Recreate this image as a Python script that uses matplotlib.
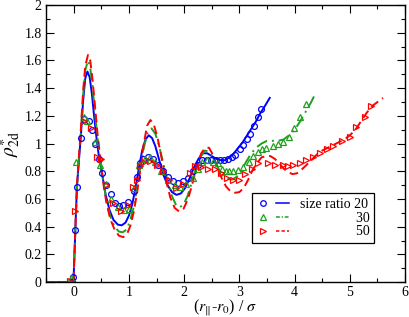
import numpy as np
import matplotlib
matplotlib.use("Agg")
import matplotlib.pyplot as plt
from matplotlib.ticker import MultipleLocator, FuncFormatter
from matplotlib.legend_handler import HandlerTuple
from matplotlib.lines import Line2D

plt.rcParams['font.family'] = ['Liberation Serif', 'DejaVu Serif']
plt.rcParams['mathtext.fontset'] = 'stix'

# theory curves
x20_line = [-0.5, -0.05, 0.0, 0.03, 0.06, 0.1, 0.13, 0.17, 0.21, 0.25, 0.29, 0.33, 0.37, 0.42, 0.46,
            0.52, 0.58, 0.65, 0.72, 0.8, 0.87, 0.94, 1.0, 1.06, 1.12, 1.18, 1.24, 1.3, 1.36, 1.42,
            1.48, 1.55, 1.62, 1.7, 1.78, 1.86, 1.94, 2.02, 2.1, 2.18, 2.26, 2.34, 2.42, 2.5, 2.58,
            2.66, 2.74, 2.82, 2.9, 2.98, 3.06, 3.14, 3.22, 3.3, 3.38, 3.46, 3.55]
y20_line = [0, 0, 0.03, 0.37, 0.69, 0.90, 1.05, 1.30, 1.47, 1.52, 1.48, 1.36, 1.20, 1.02, 0.90,
            0.77, 0.63, 0.52, 0.45, 0.415, 0.41, 0.43, 0.48, 0.56, 0.68, 0.82, 0.95, 1.03, 1.06, 1.04,
            0.98, 0.88, 0.78, 0.70, 0.65, 0.63, 0.64, 0.68, 0.75, 0.83, 0.89, 0.93, 0.93, 0.91, 0.89,
            0.88, 0.88, 0.90, 0.93, 0.97, 1.01, 1.06, 1.11, 1.16, 1.22, 1.27, 1.33]

x30_line = [-0.5, -0.05, 0.0, 0.03, 0.06, 0.1, 0.13, 0.17, 0.21, 0.26, 0.3, 0.34, 0.38, 0.43, 0.48,
            0.53, 0.59, 0.66, 0.74, 0.82, 0.89, 0.96, 1.02, 1.08, 1.14, 1.2, 1.27, 1.34, 1.41, 1.48,
            1.55, 1.62, 1.7, 1.78, 1.85, 1.92, 1.99, 2.06, 2.14, 2.22, 2.3, 2.38, 2.46, 2.54, 2.62,
            2.7, 2.78, 2.87, 2.95, 3.03, 3.11, 3.2, 3.3, 3.4, 3.5, 3.6, 3.7, 3.8, 3.9, 4.0, 4.1,
            4.2, 4.3, 4.35]
y30_line = [0, 0, 0.03, 0.37, 0.70, 0.92, 1.08, 1.34, 1.53, 1.60, 1.55, 1.42, 1.25, 1.05, 0.88,
            0.74, 0.60, 0.48, 0.40, 0.365, 0.36, 0.38, 0.44, 0.53, 0.66, 0.81, 0.97, 1.08, 1.11, 1.07,
            0.98, 0.86, 0.73, 0.62, 0.56, 0.54, 0.56, 0.62, 0.72, 0.83, 0.91, 0.95, 0.94, 0.89, 0.82,
            0.77, 0.745, 0.74, 0.76, 0.80, 0.86, 0.92, 0.97, 1.0, 1.02, 1.02, 1.02, 1.03, 1.06, 1.10, 1.16,
            1.23, 1.30, 1.34]

x50_line = [-0.5, -0.05, 0.0, 0.03, 0.06, 0.1, 0.13, 0.17, 0.21, 0.26, 0.3, 0.34, 0.38, 0.43, 0.48,
            0.53, 0.59, 0.66, 0.74, 0.82, 0.9, 0.97, 1.03, 1.09, 1.15, 1.21, 1.27, 1.33, 1.39, 1.45,
            1.52, 1.59, 1.67, 1.75, 1.83, 1.91, 1.99, 2.07, 2.15, 2.23, 2.31, 2.38, 2.45, 2.52, 2.6,
            2.68, 2.76, 2.84, 2.92, 3.0, 3.08, 3.16, 3.24, 3.32, 3.4, 3.48, 3.56, 3.64, 3.72, 3.8,
            3.88, 3.96, 4.04, 4.12, 4.2, 4.3, 4.4, 4.5, 4.6, 4.7, 4.8, 4.9, 5.0, 5.1, 5.2, 5.3,
            5.4, 5.5, 5.6]
y50_line = [0, 0, 0.03, 0.37, 0.70, 0.93, 1.10, 1.37, 1.56, 1.64, 1.60, 1.47, 1.30, 1.08, 0.90,
            0.74, 0.58, 0.46, 0.38, 0.335, 0.325, 0.35, 0.41, 0.51, 0.65, 0.82, 1.0, 1.13, 1.17, 1.14,
            1.04, 0.90, 0.74, 0.61, 0.535, 0.51, 0.53, 0.60, 0.71, 0.84, 0.93, 0.97, 0.97, 0.92, 0.83,
            0.75, 0.69, 0.655, 0.645, 0.65, 0.68, 0.74, 0.81, 0.86, 0.90, 0.91, 0.91, 0.89, 0.86, 0.82,
            0.795, 0.78, 0.785, 0.81, 0.84, 0.88, 0.92, 0.95, 0.97, 0.99, 1.01, 1.03, 1.06, 1.10, 1.16, 1.22,
            1.27, 1.30, 1.33]

# simulation points
x20_sim = [-0.03, -0.01, 0.02, 0.06, 0.13, 0.18, 0.27, 0.33, 0.39, 0.46, 0.52, 0.59, 0.67, 0.74,
           0.82, 0.89, 0.98, 1.09, 1.15, 1.20, 1.26, 1.35, 1.44, 1.53, 1.62, 1.71, 1.79, 1.89, 1.98,
           2.07, 2.16, 2.25, 2.33, 2.41, 2.49, 2.57, 2.65, 2.73, 2.80, 2.86, 2.92, 3.01, 3.07, 3.13,
           3.20, 3.27, 3.34, 3.40]
y20_sim = [0.0, 0.04, 0.375, 0.69, 1.04, 1.18, 1.16, 1.10, 1.0, 0.89, 0.785, 0.70, 0.635, 0.57,
           0.55, 0.555, 0.58, 0.66, 0.76, 0.86, 0.89, 0.90, 0.89, 0.845, 0.80, 0.76, 0.73, 0.717, 0.73,
           0.75, 0.80, 0.845, 0.88, 0.885, 0.885, 0.88, 0.88, 0.885, 0.89, 0.905, 0.92, 0.96, 0.99, 1.03,
           1.07, 1.13, 1.19, 1.25]

x30_sim = [-0.04, 0.05, 0.18, 0.24, 0.39, 0.47, 0.58, 0.68, 0.80, 0.91, 1.0, 1.10, 1.18, 1.29,
           1.38, 1.47, 1.59, 1.71, 1.83, 1.92, 2.04, 2.16, 2.26, 2.33, 2.42, 2.52, 2.61, 2.68, 2.75,
           2.82, 2.89, 2.98, 3.07, 3.17, 3.25, 3.33, 3.41, 3.49, 3.60, 3.70, 3.79, 3.90, 3.99, 4.09, 4.20]
y30_sim = [0.03, 0.87, 1.19, 1.16, 1.01, 0.845, 0.71, 0.60, 0.54, 0.52, 0.53, 0.68, 0.845, 0.886,
           0.90, 0.87, 0.80, 0.74, 0.70, 0.69, 0.71, 0.75, 0.82, 0.87, 0.88, 0.87, 0.86, 0.82, 0.80,
           0.80, 0.80, 0.81, 0.83, 0.87, 0.91, 0.94, 0.96, 0.97, 0.98, 1.0, 1.01, 1.05, 1.11, 1.19, 1.285]

x50_sim = [-0.06, 0.02, 0.18, 0.32, 0.43, 0.50, 0.58, 0.71, 0.85, 0.98, 1.07, 1.14, 1.20, 1.28,
           1.38, 1.50, 1.62, 1.73, 1.86, 1.98, 2.10, 2.20, 2.31, 2.43, 2.55, 2.67, 2.77, 2.89, 3.0,
           3.10, 3.22, 3.34, 3.52, 3.64, 3.79, 3.88, 3.97, 4.09, 4.20, 4.34, 4.46, 4.58, 4.70, 4.85,
           5.0, 5.12, 5.27, 5.39]
y50_sim = [0.01, 0.51, 1.16, 1.11, 0.905, 0.89, 0.70, 0.57, 0.515, 0.555, 0.69, 0.74, 0.84, 0.87,
           0.876, 0.845, 0.80, 0.74, 0.68, 0.71, 0.79, 0.84, 0.83, 0.82, 0.82, 0.79, 0.75, 0.74, 0.74,
           0.78, 0.82, 0.86, 0.86, 0.845, 0.845, 0.84, 0.845, 0.86, 0.88, 0.905, 0.93, 0.96, 0.98, 1.02,
           1.05, 1.12, 1.19, 1.27]

# right-aligned by padding with spaces
labels = ['size ratio 20', ' ' * 16 + '30', ' ' * 16 + '50']
blue, green, red = '#0000ff', '#1ea01e', '#ff0000'

fig = plt.figure(figsize=(4.09, 3.17), dpi=100)
ax = fig.add_axes([0.1125, 0.110, 0.878, 0.874])

ls_dd = (0, (6, 2.5, 1, 2.5))
ls_d = (0, (4.5, 2.5))

ax.plot(x20_line, y20_line, color=blue, lw=1.4)
ax.plot(x30_line, y30_line, color=green, lw=1.4, ls=ls_dd)
ax.plot(x50_line, y50_line, color=red, lw=1.4, ls=ls_d)

mk = dict(ls='none', ms=4.2, mew=0.9, mfc='none')
ax.plot(x20_sim, y20_sim, marker='o', mec=blue, **mk)
ax.plot(x30_sim, y30_sim, marker='^', mec=green, **mk)
ax.plot(x50_sim, y50_sim, marker='>', mec=red, **mk)

ax.set_xlim(-0.5, 6)
ax.set_ylim(0, 2)
ax.xaxis.set_major_locator(MultipleLocator(1))
ax.xaxis.set_minor_locator(MultipleLocator(0.5))
ax.yaxis.set_major_locator(MultipleLocator(0.2))
ax.yaxis.set_minor_locator(MultipleLocator(0.1))
ax.yaxis.set_major_formatter(FuncFormatter(lambda v, p: '%g' % round(v, 2)))
ax.tick_params(which='both', direction='in', top=True, right=True, labelsize=10, width=0.8)
ax.tick_params(which='major', length=6, pad=3)
ax.tick_params(which='minor', length=3)
for s in ax.spines.values():
    s.set_linewidth(1.0)

ax.set_xlabel(r'($r_{\|}$-$r_0$) / $\sigma$', fontsize=11.5, labelpad=-1)
ax.set_ylabel(r'$\rho^{\ast}_{\rm 2d}$', fontsize=14, labelpad=1)

# legend samples: shorter dashes so the pattern shows in the small handle
handles = []
for c, m, ls in [(blue, 'o', '-'), (green, '^', (0, (2.5, 1.2, 0.8, 1.2))), (red, '>', (0, (2.2, 1.4)))]:
    h1 = Line2D([], [], marker=m, mec=c, mfc='none', ms=4, mew=0.9, ls='none')
    h2 = Line2D([], [], color=c, lw=1.1, ls=ls)
    handles.append((h1, h2))

leg = ax.legend(handles, labels, handler_map={tuple: HandlerTuple(ndivide=2, pad=0.5)},
                loc='upper right', bbox_to_anchor=(0.914, 0.321), fontsize=10,
                fancybox=False, edgecolor='black', framealpha=1, handlelength=2.3,
                handletextpad=0.8, labelspacing=0.05, borderpad=0.35, borderaxespad=0)
leg.get_frame().set_linewidth(0.9)

fig.savefig('out.png', dpi=100)
